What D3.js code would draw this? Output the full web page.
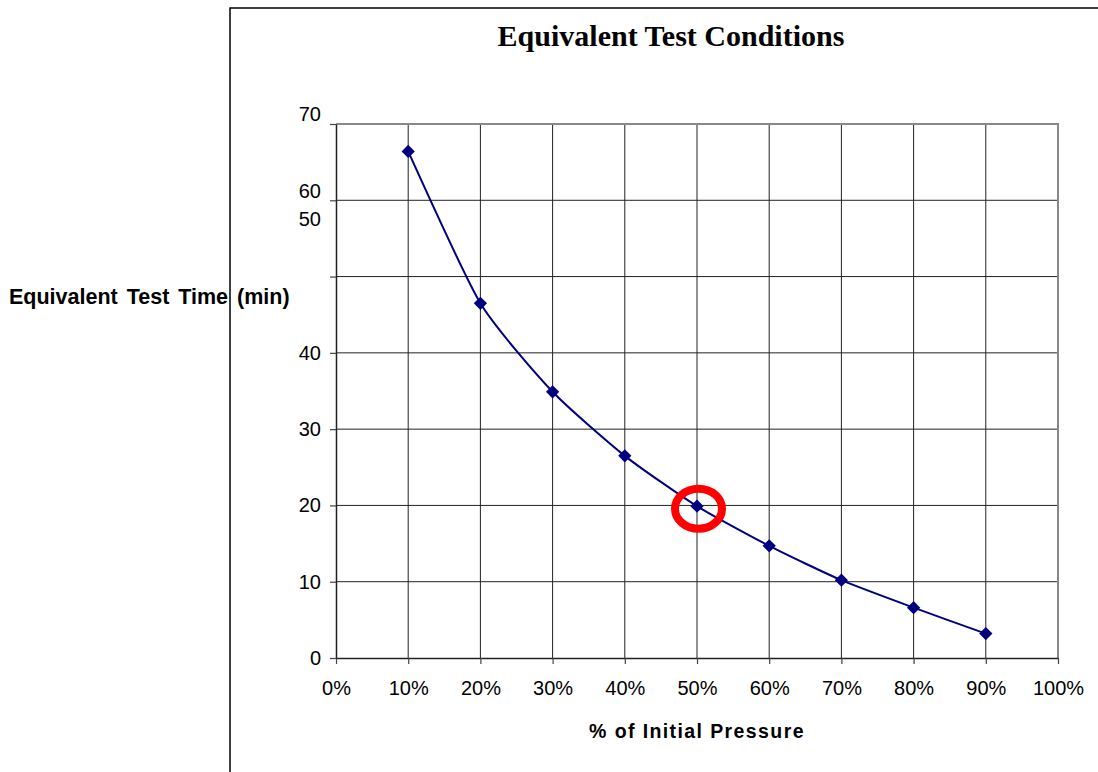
<!DOCTYPE html>
<html>
<head>
<meta charset="utf-8">
<script src="https://cdn.jsdelivr.net/npm/d3@7"></script>
<style>
    body { margin: 0; background: #fff; }
    svg { display: block; }
</style>
</head>
<body>
<svg id="chart" width="1098" height="772"></svg>
<script>
// Data
var pressure = [0.1, 0.2, 0.3, 0.4, 0.5, 0.6, 0.7, 0.8, 0.9];
var testTime = [66.4, 46.5, 34.9, 26.5, 19.9, 14.7, 10.2, 6.6, 3.2];

var xTicks = [0, 0.1, 0.2, 0.3, 0.4, 0.5, 0.6, 0.7, 0.8, 0.9, 1.0];
var yTicks = [0, 10, 20, 30, 40, 50, 60, 70];
// the original labels sit a bit off their ticks at the top of the axis
var yLabelText = ["0", "10", "20", "30", "40", "50", "60", "70"];
var yLabelAt = [0, 10, 20, 30, 40, 57.5, 61.2, 71.3];

var highlightIndex = 4; // the ringed 50% point

window.addEventListener("load", function () {
    drawChart();
});

function drawChart() {
    var svg = d3.select("#chart"),
        margin = { top: 124, right: 40, bottom: 114, left: 336 },
        width = +svg.attr("width") - margin.left - margin.right,
        height = +svg.attr("height") - margin.top - margin.bottom;

    var sans = "Arial, 'Liberation Sans', sans-serif";

    // Outer chart frame (runs off the page to the right and bottom)
    svg.append("path")
        .attr("d", "M230,772V8H1098")
        .attr("fill", "none")
        .attr("stroke", "#000")
        .attr("stroke-width", 1.5);

    var x = d3.scaleLinear().domain([0, 1]).range([0, width]),
        y = d3.scaleLinear().domain([0, 70]).range([height, 0]);

    var g = svg.append("g")
        .attr("transform", "translate(" + margin.left + "," + margin.top + ")");

    // Grid
    g.append("g").selectAll("line")
        .data(yTicks.slice(1, -1))
        .enter().append("line")
        .attr("x1", 0).attr("x2", width)
        .attr("y1", function (d) { return y(d); })
        .attr("y2", function (d) { return y(d); })
        .attr("stroke", "#222")
        .attr("stroke-width", 1);

    g.append("g").selectAll("line")
        .data(xTicks.slice(1, -1))
        .enter().append("line")
        .attr("y1", 0).attr("y2", height)
        .attr("x1", function (d) { return x(d); })
        .attr("x2", function (d) { return x(d); })
        .attr("stroke", "#222")
        .attr("stroke-width", 1);

    // Plot area border top / right
    g.append("path")
        .attr("d", "M0," + y(70) + "H" + x(1) + "V" + y(0))
        .attr("fill", "none")
        .attr("stroke", "#888")
        .attr("stroke-width", 2);

    // X axis
    var xAxis = g.append("g")
        .attr("transform", "translate(0," + height + ")")
        .call(d3.axisBottom(x).tickValues(xTicks).tickSize(6).tickSizeOuter(0).tickPadding(17)
            .tickFormat(d3.format(".0%")));
    xAxis.select(".domain").attr("stroke", "#222").attr("stroke-width", 1.5);
    xAxis.selectAll(".tick line").attr("stroke", "#444").attr("stroke-width", 1.2);
    xAxis.selectAll("text")
        .attr("fill", "#000")
        .style("font-family", sans)
        .style("font-size", "20px");

    // Y axis, ticks only; labels placed below
    var yAxis = g.append("g")
        .call(d3.axisLeft(y).tickValues(yTicks).tickSize(6).tickSizeOuter(0).tickFormat(""));
    yAxis.select(".domain").attr("stroke", "#222").attr("stroke-width", 1.5);
    yAxis.selectAll(".tick line").attr("stroke", "#444").attr("stroke-width", 1.2);

    g.append("g").selectAll("text")
        .data(yLabelText)
        .enter().append("text")
        .attr("x", -15)
        .attr("y", function (d, i) { return y(yLabelAt[i]); })
        .attr("dy", "0.35em")
        .attr("text-anchor", "end")
        .style("font-family", sans)
        .style("font-size", "20px")
        .text(function (d) { return d; });

    // Series line
    var line = d3.line()
        .x(function (d, i) { return x(pressure[i]); })
        .y(function (d) { return y(d); })
        .curve(d3.curveCardinal.tension(0.4));

    g.append("path")
        .datum(testTime)
        .attr("d", line)
        .attr("fill", "none")
        .attr("stroke", "#000080")
        .attr("stroke-width", 2);

    // Diamond markers
    g.selectAll(".marker")
        .data(testTime)
        .enter().append("path")
        .attr("class", "marker")
        .attr("d", d3.symbol().type(d3.symbolSquare).size(88))
        .attr("transform", function (d, i) {
            return "translate(" + x(pressure[i]) + "," + y(d) + ") rotate(45)";
        })
        .attr("fill", "#000080");

    // Red ring round the highlighted point
    g.append("ellipse")
        .attr("cx", x(pressure[highlightIndex]) + 1.5)
        .attr("cy", y(testTime[highlightIndex]) + 2.5)
        .attr("rx", 23.5)
        .attr("ry", 20)
        .attr("fill", "none")
        .attr("stroke", "#ff0000")
        .attr("stroke-width", 8);

    // Titles
    svg.append("text")
        .attr("x", 671)
        .attr("y", 46)
        .attr("text-anchor", "middle")
        .style("font-family", "'Times New Roman', 'Liberation Serif', serif")
        .style("font-weight", "bold")
        .style("font-size", "30px")
        .text("Equivalent Test Conditions");

    svg.append("text")
        .attr("x", 9)
        .attr("y", 304)
        .style("font-family", sans)
        .style("font-weight", "bold")
        .style("font-size", "21.5px")
        .style("word-spacing", "3px")
        .text("Equivalent Test Time (min)");

    svg.append("text")
        .attr("x", 697)
        .attr("y", 738)
        .attr("text-anchor", "middle")
        .style("font-family", sans)
        .style("font-weight", "bold")
        .style("font-size", "19.5px")
        .style("letter-spacing", "1.4px")
        .text("% of Initial Pressure");
}
</script>
</body>
</html>
